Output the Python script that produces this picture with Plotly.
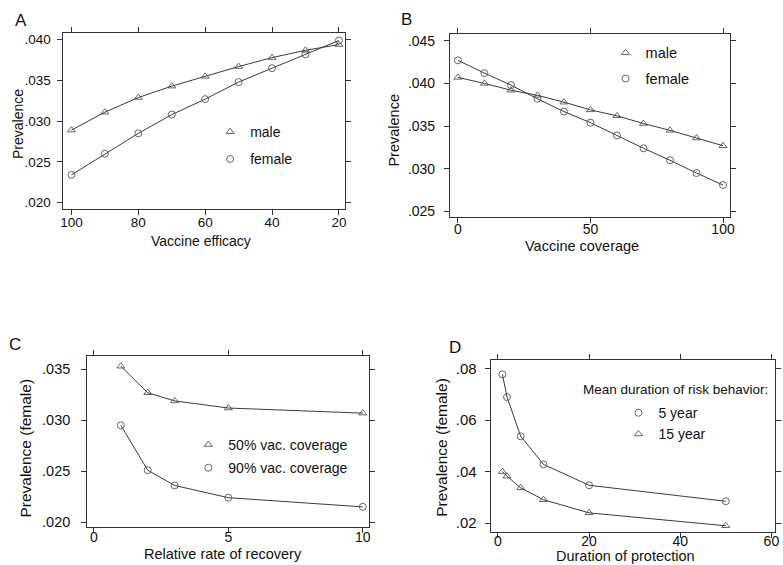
import plotly.graph_objects as go

W, H = 783, 565

# ---------------- data ----------------
# Panel A
efficacy = [100, 90, 80, 70, 60, 50, 40, 30, 20]
a_male = [0.0289, 0.0311, 0.0329, 0.0343, 0.0355, 0.0367, 0.0378, 0.0387, 0.0394]
a_female = [0.0234, 0.0260, 0.0285, 0.0308, 0.0327, 0.0348, 0.0365, 0.0382, 0.0399]

# Panel B
coverage = [0, 10, 20, 30, 40, 50, 60, 70, 80, 90, 100]
b_male = [0.0407, 0.0400, 0.0392, 0.0386, 0.0378, 0.0369, 0.0362, 0.0353, 0.0345, 0.0336, 0.0327]
b_female = [0.0427, 0.0412, 0.0398, 0.0382, 0.0367, 0.0354, 0.0339, 0.0324, 0.0310, 0.0295, 0.0281]

# Panel C
recovery = [1, 2, 3, 5, 10]
c_cov50 = [0.0353, 0.0327, 0.0319, 0.0312, 0.0307]
c_cov90 = [0.0295, 0.0251, 0.0236, 0.0224, 0.0215]

# Panel D
protection = [1, 2, 5, 10, 20, 50]
d_5year = [0.0777, 0.0689, 0.0537, 0.0428, 0.0347, 0.0285]
d_15year = [0.0400, 0.0382, 0.0337, 0.0291, 0.0240, 0.0190]

# tick labels
a_yticks = [0.020, 0.025, 0.030, 0.035, 0.040]
a_ytext = [".020", ".025", ".030", ".035", ".040"]
a_xticks = [100, 80, 60, 40, 20]
b_yticks = [0.025, 0.030, 0.035, 0.040, 0.045]
b_ytext = [".025", ".030", ".035", ".040", ".045"]
b_xticks = [0, 50, 100]
c_yticks = [0.020, 0.025, 0.030, 0.035]
c_ytext = [".020", ".025", ".030", ".035"]
c_xticks = [0, 5, 10]
d_yticks = [0.02, 0.04, 0.06, 0.08]
d_ytext = [".02", ".04", ".06", ".08"]
d_xticks = [0, 20, 40, 60]

FONT = "Liberation Sans, Arial, sans-serif"
LINE_C = "#3a3a3a"
MARK_C = "#555555"
TXT_C = "#111111"

fig = go.Figure()


def add_series(x, y, symbol, name, xa, ya, legend, msize):
    fig.add_trace(go.Scatter(x=x, y=y, mode="lines", xaxis=xa, yaxis=ya,
                             line=dict(color=LINE_C, width=1), showlegend=False,
                             hoverinfo="skip"))
    fig.add_trace(go.Scatter(x=x, y=y, mode="markers", xaxis=xa, yaxis=ya, name=name,
                             marker=dict(symbol=symbol, size=msize, color=MARK_C,
                                         line=dict(width=0.9, color=MARK_C)),
                             legend=legend, legendgroup=name + legend, showlegend=True))


add_series(efficacy, a_male, "triangle-up-open", "male", "x", "y", "legend", 7)
add_series(efficacy, a_female, "circle-open", "female", "x", "y", "legend", 7)
add_series(coverage, b_male, "triangle-up-open", "male", "x2", "y2", "legend2", 7)
add_series(coverage, b_female, "circle-open", "female", "x2", "y2", "legend2", 7)
add_series(recovery, c_cov50, "triangle-up-open", "50% vac. coverage", "x3", "y3", "legend3", 7)
add_series(recovery, c_cov90, "circle-open", "90% vac. coverage", "x3", "y3", "legend3", 7)
add_series(protection, d_5year, "circle-open", "5 year", "x4", "y4", "legend4", 7)
add_series(protection, d_15year, "triangle-up-open", "15 year", "x4", "y4", "legend4", 7)


def px_x(a, b):
    return [a / W, b / W]


def px_y(top, bottom):
    return [1 - bottom / H, 1 - top / H]


def axis(size, **kw):
    d = dict(showline=True, linecolor="#333333", linewidth=1, mirror="ticks",
             ticks="outside", ticklen=5, tickwidth=1, tickcolor="#333333",
             showgrid=False, zeroline=False,
             tickfont=dict(family=FONT, size=size, color=TXT_C))
    d.update(kw)
    return d


fig.update_layout(
    xaxis=axis(13.5, domain=px_x(61, 345), range=[102.4, 18.2], anchor="y",
               tickvals=a_xticks, ticklabelstandoff=-4),
    yaxis=axis(13.5, domain=px_y(32, 209), range=[0.01927, 0.04085], anchor="x",
               tickvals=a_yticks, ticktext=a_ytext, ticklabelstandoff=4),
    xaxis2=axis(14, domain=px_x(451, 734), range=[-3.0, 102.8], anchor="y2",
                tickvals=b_xticks, ticklabelstandoff=-6),
    yaxis2=axis(14, domain=px_y(33, 218), range=[0.0243, 0.04581], anchor="x2",
                tickvals=b_yticks, ticktext=b_ytext, ticklabelstandoff=6),
    xaxis3=axis(14, domain=px_x(85, 369), range=[-0.25, 10.22], anchor="y3",
                tickvals=c_xticks, ticklabelstandoff=-8),
    yaxis3=axis(14.5, domain=px_y(358, 530), range=[0.0195, 0.03626], anchor="x3",
                tickvals=c_yticks, ticktext=c_ytext, ticklabelstandoff=8),
    xaxis4=axis(14, domain=px_x(492, 779), range=[-1.6, 60.8], anchor="y4",
                tickvals=d_xticks, ticklabelstandoff=-9),
    yaxis4=axis(15, domain=px_y(362, 535), range=[0.0165, 0.0831], anchor="x4",
                tickvals=d_yticks, ticktext=d_ytext, ticklabelstandoff=5),
)

leg_common = dict(bgcolor="rgba(0,0,0,0)", borderwidth=0, xanchor="left", yanchor="top",
                  itemclick=False, itemdoubleclick=False)

fig.update_layout(
    legend=dict(x=209 / W, y=1 - 116 / H, tracegroupgap=6,
                font=dict(family=FONT, size=14, color=TXT_C), **leg_common),
    legend2=dict(x=608 / W, y=1 - 36 / H, tracegroupgap=4,
                 font=dict(family=FONT, size=14.5, color=TXT_C), **leg_common),
    legend3=dict(x=187 / W, y=1 - 431 / H, tracegroupgap=2,
                 font=dict(family=FONT, size=14, color=TXT_C), **leg_common),
    legend4=dict(x=621 / W, y=1 - 399 / H, tracegroupgap=0,
                 font=dict(family=FONT, size=14, color=TXT_C), **leg_common),
)

annots = []


def text(t, x, y, size, angle=0, xanchor="center"):
    annots.append(dict(text=t, x=x / W, y=1 - y / H, xref="paper", yref="paper",
                       showarrow=False, xanchor=xanchor, yanchor="middle", textangle=angle,
                       font=dict(family=FONT, size=size, color=TXT_C)))


# panel letters
text("A", 18, 20, 17)
text("B", 407, 19, 17)
text("C", 12, 346, 17)
text("D", 456, 349, 17)
# axis titles
text("Prevalence", 15, 124, 14, -90)
text("Vaccine efficacy", 200, 242, 14)
text("Prevalence", 395, 130, 14.5, -90)
text("Vaccine coverage", 584, 247, 14.5)
text("Prevalence (female)", 23, 450, 15.5, -90)
text("Relative rate of recovery", 222, 557, 14.5)
text("Prevalence (female)", 443, 450, 15.5, -90)
text("Duration of protection", 628, 559, 14.5)
# legend title of panel D
text("Mean duration of risk behavior:", 583, 391, 13.5, xanchor="left")

fig.update_layout(
    width=W, height=H, margin=dict(l=0, r=0, t=0, b=0),
    paper_bgcolor="white", plot_bgcolor="white",
    annotations=annots, showlegend=True,
)

fig.write_html("out.html", config={"displayModeBar": False},
               post_script="document.body.style.margin='0px';document.body.style.overflow='hidden';")
